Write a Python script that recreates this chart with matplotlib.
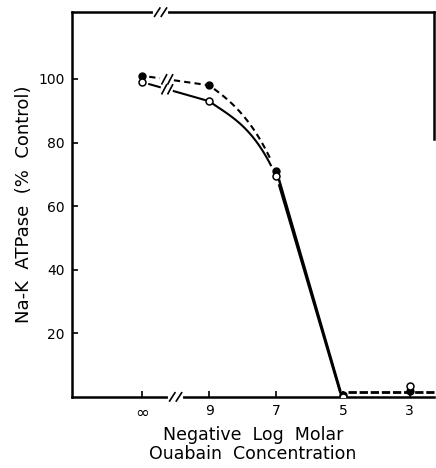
import numpy as np
import matplotlib.pyplot as plt

# negative log molar ouabain concentration (infinity placed at 11)
x_pos = [11, 9, 7, 5, 3]
x_labels = ['∞', '9', '7', '5', '3']
filled = [101, 98, 71, 0.5, 2]
opened = [99, 93, 69.5, 0, 3.5]
y_ticks = [20, 40, 60, 80, 100]

fig = plt.figure(figsize=(4.36, 4.68), dpi=100)
ax = fig.add_axes([0.165, 0.152, 0.83, 0.822])
ax.set_xlim(13.1, 2.28)
ax.set_ylim(0, 121)

BRK = 10.25


def hermite(x0, x1, y0, y1, m0, m1, n=40):
    # cubic hermite segment, slopes in dy/dx
    u = np.linspace(0, 1, n)
    h = x1 - x0
    y = ((2 * u**3 - 3 * u**2 + 1) * y0 + (u**3 - 2 * u**2 + u) * h * m0
         + (-2 * u**3 + 3 * u**2) * y1 + (u**3 - u**2) * h * m1)
    return x0 + h * u, y


for ys, ls in [(filled, (0, (3, 2))), (opened, '-')]:
    m9 = (ys[2] - ys[0]) / (x_pos[2] - x_pos[0])
    m7 = (ys[3] - ys[1]) / (x_pos[3] - x_pos[1])
    xa = np.linspace(x_pos[0], x_pos[1], 20)
    ya = np.interp(xa, x_pos[1::-1], ys[1::-1])
    xb, yb = hermite(x_pos[1], x_pos[2], ys[1], ys[2], m9, m7)
    xx = np.concatenate([xa, xb[1:]])
    yy = np.concatenate([ya, yb[1:]])
    left = (xx < x_pos[0] - 0.15) & (xx > BRK + 0.15)
    right = (xx < BRK - 0.15) & (xx > x_pos[2] + 0.12)
    ax.plot(xx[left], yy[left], color='black', lw=1.5, ls=ls)
    ax.plot(xx[right], yy[right], color='black', lw=1.5, ls=ls)
    ax.plot([x_pos[2] - 0.1, x_pos[3] + 0.08], [ys[2] - 3, ys[3] + 1.5], color='black', lw=1.8)
    ybrk = np.interp(BRK, xx[::-1], yy[::-1])
    for d in (0.09, -0.09):
        ax.plot([BRK + d + 0.07, BRK + d - 0.07], [ybrk - 1.4, ybrk + 1.4], color='black', lw=1.2)

ax.plot([x_pos[3] - 0.15, 2.28], [1.5, 1.5], color='black', lw=2, ls=(0, (3, 1)), clip_on=False)

ax.plot(x_pos, filled, 'o', color='black', ms=5, zorder=5)
ax.plot(x_pos, opened, 'o', mfc='white', mec='black', mew=1.1, ms=5, zorder=5)

for s in ['left', 'bottom', 'top', 'right']:
    ax.spines[s].set_linewidth(1.8)
ax.spines['right'].set_bounds(81, 121)


def axis_break(x, y):
    ax.plot([x + 0.17, x - 0.17], [y, y], color='white', lw=3, clip_on=False, zorder=6)
    for d in (0.1, -0.1):
        ax.plot([x + d + 0.08, x + d - 0.08], [y - 1.3, y + 1.3], color='black', lw=1.2,
                clip_on=False, zorder=7)


axis_break(10.45, 121)
axis_break(10.0, 0)

ax.set_xticks(x_pos)
ax.set_xticklabels(x_labels, fontsize=10)
ax.get_xticklabels()[0].set_fontsize(12)
ax.set_yticks(y_ticks)
ax.set_yticklabels([str(v) for v in y_ticks], fontsize=10)
ax.tick_params(direction='in', length=4, width=1.2, pad=5)

ax.set_ylabel('Na-K  ATPase  (%  Control)', fontsize=13, labelpad=4)
ax.set_xlabel('Negative  Log  Molar\nOuabain  Concentration', fontsize=12.5, labelpad=3,
              linespacing=1.05)

fig.savefig('out.png', dpi=100)
